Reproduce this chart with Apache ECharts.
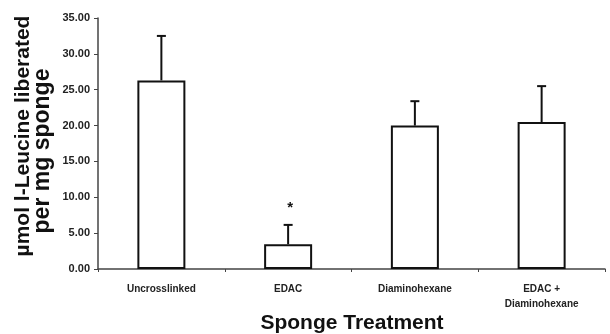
<!DOCTYPE html>
<html><head><meta charset="utf-8">
<script src="https://cdn.jsdelivr.net/npm/echarts@6/dist/echarts.min.js"></script>
<style>html,body{margin:0;padding:0;background:#fff}#c{width:610px;height:334px}</style>
</head><body><div id="c"></div>
<script>
const categories = ['Uncrosslinked', 'EDAC', 'Diaminohexane', 'EDAC +\nDiaminohexane'];
const means = [26.3, 3.45, 20.0, 20.5];
const errors = [6.2, 2.7, 3.4, 5.0];
const marks = ['', '*', '', ''];
const yTicks = [0, 5, 10, 15, 20, 25, 30, 35];

const FONT = '"Liberation Sans", Arial, sans-serif';
const chart = echarts.init(document.getElementById('c'), null, {renderer: 'canvas'});
chart.setOption({
  animation: false,
  backgroundColor: '#fff',
  grid: {left: 98, right: 5, top: 18, bottom: 65, containLabel: false},
  xAxis: {
    type: 'category', data: categories, boundaryGap: true,
    axisLine: {lineStyle: {color: '#444', width: 1.5}},
    axisTick: {show: true, length: 3, lineStyle: {color: '#444'}},
    axisLabel: {fontFamily: FONT, fontWeight: 'bold', fontSize: 10, color: '#222', margin: 13, lineHeight: 15, interval: 0}
  },
  yAxis: {
    type: 'value', min: yTicks[0], max: yTicks[yTicks.length - 1], interval: 5,
    splitLine: {show: false},
    axisLine: {show: true, lineStyle: {color: '#444', width: 1.5}},
    axisTick: {show: true, length: 4, lineStyle: {color: '#444'}},
    axisLabel: {fontFamily: FONT, fontWeight: 'bold', fontSize: 11, color: '#222', margin: 8,
      formatter: v => v.toFixed(2)}
  },
  graphic: [
    {type: 'text', x: 352, y: 323,
      style: {text: 'Sponge Treatment', fontFamily: FONT, fontWeight: 'bold', fontSize: 21, fill: '#111', align: 'center', verticalAlign: 'middle'}},
    {type: 'text', x: 23, y: 136, rotation: Math.PI / 2,
      style: {text: 'µmol l-Leucine liberated', fontFamily: FONT, fontWeight: 'bold', fontSize: 21, fill: '#111', align: 'center', verticalAlign: 'middle'}},
    {type: 'text', x: 43, y: 151, rotation: Math.PI / 2,
      style: {text: 'per mg sponge', fontFamily: FONT, fontWeight: 'bold', fontSize: 23, fill: '#111', align: 'center', verticalAlign: 'middle'}}
  ],
  series: [
    {
      type: 'bar', data: means, barWidth: 48,
      itemStyle: {color: '#fff', borderColor: '#111', borderWidth: 2}
    },
    {
      type: 'custom',
      data: means.map((m, i) => [i, m, m + errors[i]]),
      renderItem: function (params, api) {
        const x = api.coord([api.value(0), api.value(1)]);
        const top = api.coord([api.value(0), api.value(2)]);
        const children = [
          {type: 'line', shape: {x1: x[0], y1: x[1], x2: top[0], y2: top[1]}, style: {stroke: '#111', lineWidth: 2}},
          {type: 'line', shape: {x1: top[0] - 4.5, y1: top[1], x2: top[0] + 4.5, y2: top[1]}, style: {stroke: '#111', lineWidth: 2}}
        ];
        const mk = marks[params.dataIndex];
        if (mk) {
          children.push({type: 'text', x: top[0] + 2, y: top[1] - 17,
            style: {text: mk, fontFamily: FONT, fontWeight: 'bold', fontSize: 15, fill: '#111', align: 'center', verticalAlign: 'middle'}});
        }
        return {type: 'group', children: children};
      },
      z: 5
    }
  ]
});
</script></body></html>
